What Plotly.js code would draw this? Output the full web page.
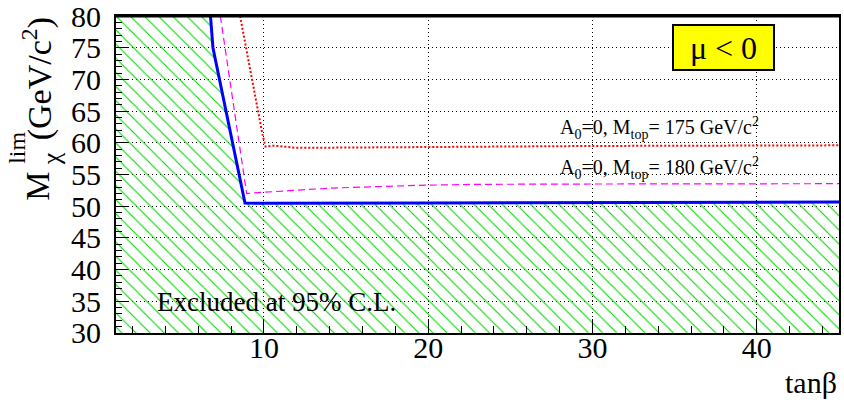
<!DOCTYPE html>
<html>
<head>
<meta charset="utf-8">
<script src="https://cdn.plot.ly/plotly-3.0.1.min.js"></script>
<style>html,body{margin:0;padding:0;background:#fff;}#chart{width:844px;height:406px;}</style>
</head>
<body>
<div id="chart"></div>
<script>
// Excluded-region boundary (blue solid)
const blueX = [6.75, 6.9, 8.85, 10, 20, 30, 45];
const blueY = [80, 75, 50.5, 50.45, 50.5, 50.55, 50.65];
// A0=0, Mtop=180 GeV/c^2 (magenta dashed)
const magX = [7.35, 8.95, 10, 14, 19.5, 23, 30, 45];
const magY = [80, 52.0, 52.2, 52.85, 53.3, 53.45, 53.5, 53.55];
// A0=0, Mtop=175 GeV/c^2 (red dotted)
const redX = [8.55, 9.9, 10.1, 10.6, 12, 20, 30, 45];
const redY = [80, 61.5, 59.4, 59.55, 59.2, 59.35, 59.5, 59.6];

const xRange = [1, 45];
const yRange = [29.999, 80.001];
const xTicks = [10, 20, 30, 40];
const yTicks = [30, 35, 40, 45, 50, 55, 60, 65, 70, 75, 80];

const serif = '"Liberation Serif", "Times New Roman", serif';

// hatched excluded region: below the blue boundary
const hatchX = [xRange[0]].concat(blueX, [xRange[1], xRange[0]]);
const hatchY = [80].concat(blueY, [30, 30]);

const traces = [
  {x: hatchX, y: hatchY, type: 'scatter', mode: 'lines', fill: 'toself',
   line: {width: 0, color: 'rgba(0,0,0,0)'}, fillcolor: 'rgba(0,0,0,0)',
   fillpattern: {shape: '\\', fgcolor: '#00d800', bgcolor: 'rgba(0,0,0,0)', size: 10, solidity: 0.11},
   hoverinfo: 'skip', showlegend: false},
  {x: redX, y: redY, type: 'scatter', mode: 'lines',
   line: {color: '#ff0000', width: 2, dash: '2px,2px'}, showlegend: false},
  {x: magX, y: magY, type: 'scatter', mode: 'lines',
   line: {color: '#ff00ff', width: 1.2, dash: '7px,4px'}, showlegend: false},
  {x: blueX, y: blueY, type: 'scatter', mode: 'lines',
   line: {color: '#0000ff', width: 3}, showlegend: false}
];

const layout = {
  width: 844, height: 406,
  margin: {l: 116, r: 5, t: 16, b: 73},
  paper_bgcolor: '#fff', plot_bgcolor: '#fff',
  showlegend: false,
  font: {family: serif, color: '#000'},
  xaxis: {
    range: xRange, tickvals: xTicks, ticktext: xTicks.map(String),
    showline: true, linecolor: '#000', linewidth: 2, mirror: true,
    ticks: 'inside', ticklen: 14, tickwidth: 1, tickcolor: '#000',
    minor: {ticks: 'inside', ticklen: 7, dtick: 2, tick0: 0, tickcolor: '#000', showgrid: false},
    showgrid: true, gridcolor: '#000', gridwidth: 1, griddash: '1px,3px',
    zeroline: false, tickfont: {family: serif, size: 30, color: '#000'},
    ticklabelstandoff: -13, ticklabeloverflow: 'allow'
  },
  yaxis: {
    range: yRange, tickvals: yTicks, ticktext: yTicks.map(String),
    showline: true, linecolor: '#000', linewidth: 2, mirror: true,
    ticks: 'inside', ticklen: 12, tickwidth: 1, tickcolor: '#000',
    minor: {ticks: 'inside', ticklen: 6, dtick: 1, tick0: 0, tickcolor: '#000', showgrid: false},
    showgrid: true, gridcolor: '#000', gridwidth: 1, griddash: '1px,3px',
    zeroline: false, tickfont: {family: serif, size: 30, color: '#000'},
    ticklabelstandoff: 7, ticklabeloverflow: 'allow'
  },
  shapes: [
    {type: 'line', xref: 'paper', yref: 'paper', x0: 0, x1: 1, y0: 1, y1: 1,
     line: {color: '#000', width: 3}}
  ],
  annotations: [
    {xref: 'paper', yref: 'paper', x: -0.108, y: 0.464, text: 'M', textangle: -90,
     showarrow: false, font: {family: serif, size: 33}, xanchor: 'center', yanchor: 'middle'},
    {xref: 'paper', yref: 'paper', x: -0.137, y: 0.584, text: 'lim', textangle: -90,
     showarrow: false, font: {family: serif, size: 24}, xanchor: 'center', yanchor: 'middle'},
    {xref: 'paper', yref: 'paper', x: -0.089, y: 0.55, text: 'χ', textangle: -90,
     showarrow: false, font: {family: serif, size: 26}, xanchor: 'center', yanchor: 'middle'},
    {xref: 'paper', yref: 'paper', x: -0.109, y: 0.801, text: '(GeV/c<sup>2</sup>)', textangle: -90,
     showarrow: false, font: {family: serif, size: 34}, xanchor: 'center', yanchor: 'middle'},
    {xref: 'paper', yref: 'paper', x: 1, y: -0.155, text: 'tanβ',
     showarrow: false, font: {family: serif, size: 30}, xanchor: 'right', yanchor: 'middle'},
    {xref: 'x', yref: 'y', x: 10.77, y: 34.9, text: 'Excluded at 95% C.L.',
     showarrow: false, font: {family: serif, size: 27}, xanchor: 'center', yanchor: 'middle'},
    {xref: 'x', yref: 'y', x: 34.1, y: 62.3, text: 'A<sub>0</sub>=0, M<sub>top</sub>= 175 GeV/c<sup>2</sup>',
     showarrow: false, font: {family: serif, size: 20}, xanchor: 'center', yanchor: 'middle'},
    {xref: 'x', yref: 'y', x: 34.1, y: 56.0, text: 'A<sub>0</sub>=0, M<sub>top</sub>= 180 GeV/c<sup>2</sup>',
     showarrow: false, font: {family: serif, size: 20}, xanchor: 'center', yanchor: 'middle'},
    {xref: 'x', yref: 'y', x: 38.0, y: 75.0, text: 'μ < 0',
     showarrow: false, font: {family: serif, size: 32}, xanchor: 'center', yanchor: 'middle',
     bgcolor: '#ffff00', bordercolor: '#000', borderwidth: 2, borderpad: 2, width: 95, height: 39}
  ]
};

Plotly.newPlot('chart', traces, layout, {staticPlot: true, displayModeBar: false});
</script>
</body>
</html>
